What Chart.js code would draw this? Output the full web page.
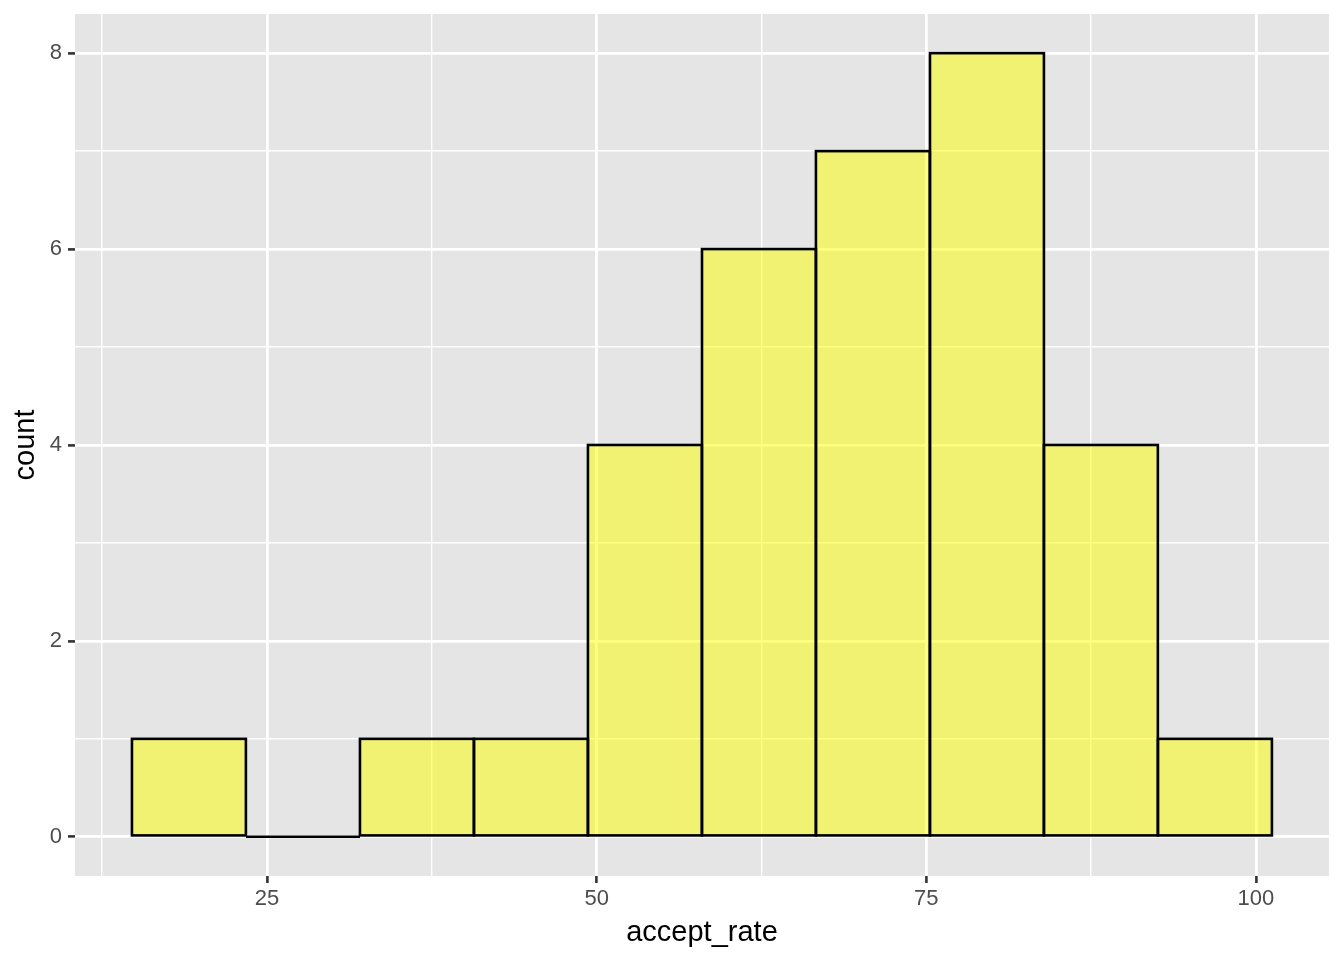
<!DOCTYPE html>
<html>
<head>
<meta charset="utf-8">
<script src="https://cdn.jsdelivr.net/npm/chart.js@4"></script>
<style>
  html, body { margin: 0; padding: 0; background: #fff; }
  canvas { display: block; }
</style>
</head>
<body>
<canvas id="chart" width="1344" height="960"></canvas>
<script>
/* ====== Datos del histograma ====== */
const binCenters = [19.08, 27.73, 36.37, 45.02, 53.66, 62.31, 70.95, 79.6, 88.24, 96.89];
const counts = [1, 0, 1, 1, 4, 6, 7, 8, 4, 1];

const xTicks = [12.5, 25, 37.5, 50, 62.5, 75, 87.5, 100];
const xLabels = [25, 50, 75, 100];
const yTicks = [0, 1, 2, 3, 4, 5, 6, 7, 8];
const yLabels = [0, 2, 4, 6, 8];

const xRange = [10.44, 105.54];
const yRange = [-0.4, 8.4];

/* ====== Helpers ====== */
const isMajor = (list, v) => list.some((l) => Math.abs(l - v) < 1e-6);

// Fondo gris del panel
const panelBg = {
  id: "panelBg",
  beforeDraw(chart) {
    const { ctx, chartArea: a } = chart;
    ctx.save();
    ctx.fillStyle = "#fff";
    ctx.fillRect(0, 0, chart.width, chart.height);
    ctx.fillStyle = "#e5e5e5";
    ctx.fillRect(a.left, a.top, a.right - a.left, a.bottom - a.top);
    ctx.restore();
  },
};

// Contorno de cada barra (centrado en el borde, como ggplot)
const barOutline = {
  id: "barOutline",
  afterDatasetsDraw(chart) {
    const ctx = chart.ctx;
    const meta = chart.getDatasetMeta(0);
    ctx.save();
    ctx.strokeStyle = "#000";
    ctx.lineWidth = 2.6;
    ctx.lineJoin = "miter";
    meta.data.forEach((el) => {
      const { x, y, base, width } = el.getProps(["x", "y", "base", "width"], true);
      ctx.strokeRect(x - width / 2, y, width, base - y);
    });
    ctx.restore();
  },
};

const tickFont = { family: "'Liberation Sans', Arial, sans-serif", size: 22 };
const titleFont = { family: "'Liberation Sans', Arial, sans-serif", size: 29 };

new Chart(document.getElementById("chart"), {
  type: "bar",
  data: {
    datasets: [
      {
        data: binCenters.map((x, i) => ({ x, y: counts[i] })),
        backgroundColor: "rgba(255,255,0,0.5)",
        borderWidth: 0,
        barPercentage: 1,
        categoryPercentage: 1,
      },
    ],
  },
  options: {
    responsive: false,
    animation: false,
    devicePixelRatio: 1,
    layout: { padding: { top: 14, right: 15, left: 0, bottom: 0 } },
    plugins: { legend: { display: false }, tooltip: { enabled: false } },
    scales: {
      x: {
        type: "linear",
        min: xRange[0],
        max: xRange[1],
        offset: false,
        afterBuildTicks: (s) => { s.ticks = xTicks.map((v) => ({ value: v })); },
        afterFit: (s) => { s.height = 84; s.paddingLeft = 0; s.paddingRight = 0; },
        border: { display: false },
        grid: {
          offset: false,
          color: "#fff",
          lineWidth: (c) => (isMajor(xLabels, c.tick.value) ? 2.8 : 1.4),
          tickColor: (c) => (isMajor(xLabels, c.tick.value) ? "#333" : "rgba(0,0,0,0)"),
          tickWidth: 2.6,
          tickLength: 7,
        },
        ticks: {
          autoSkip: false,
          maxRotation: 0,
          padding: 3,
          color: "#4d4d4d",
          font: tickFont,
          callback: (v) => (isMajor(xLabels, v) ? String(v) : ""),
        },
        title: {
          display: true,
          text: "accept_rate",
          color: "#000",
          font: titleFont,
          padding: { top: 0, bottom: 10 },
        },
      },
      y: {
        min: yRange[0],
        max: yRange[1],
        afterBuildTicks: (s) => { s.ticks = yTicks.map((v) => ({ value: v })); },
        afterFit: (s) => { s.width = 75; s.paddingTop = 0; s.paddingBottom = 0; },
        border: { display: false },
        grid: {
          color: "#fff",
          lineWidth: (c) => (isMajor(yLabels, c.tick.value) ? 2.8 : 1.4),
          tickColor: (c) => (isMajor(yLabels, c.tick.value) ? "#333" : "rgba(0,0,0,0)"),
          tickWidth: 2.6,
          tickLength: 7,
        },
        ticks: {
          autoSkip: false,
          padding: 6,
          color: "#4d4d4d",
          font: tickFont,
          callback: (v) => (isMajor(yLabels, v) ? String(v) : ""),
        },
        title: {
          display: true,
          text: "count",
          color: "#000",
          font: titleFont,
          padding: { top: 9, bottom: 0 },
        },
      },
    },
  },
  plugins: [panelBg, barOutline],
});
</script>
</body>
</html>
